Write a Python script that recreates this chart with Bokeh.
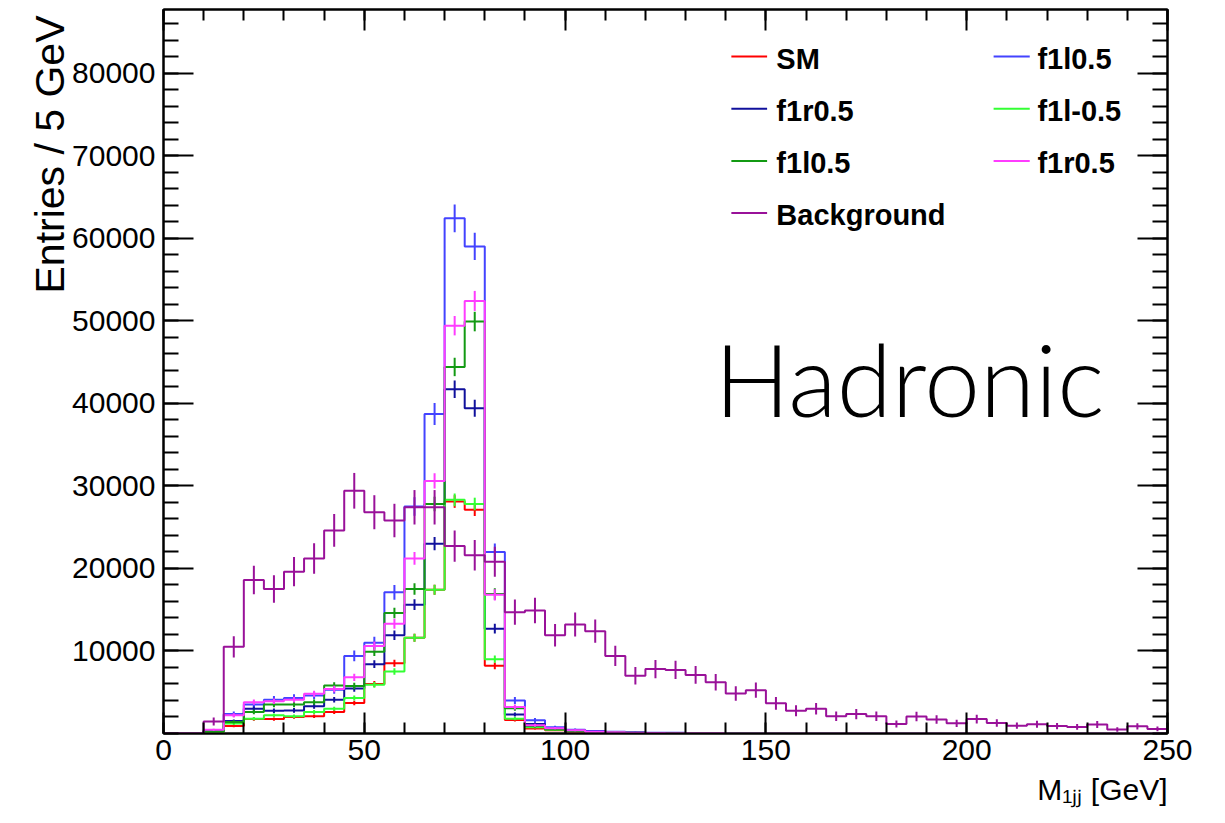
import numpy as np
from bokeh.plotting import figure
from bokeh.models import (Range1d, LinearAxis, FixedTicker, NumeralTickFormatter, Label, Arrow,
                          Title, CustomLabelingPolicy)
from bokeh.embed import file_html
from bokeh.resources import INLINE

# ---------------- data (5 GeV bins from 0 to 250 GeV) ----------------
bin_edges = list(range(0, 255, 5))

background = [0, 0, 1450, 10500, 18600, 17500, 19600, 21200, 24600, 29400,
              26800, 25800, 27400, 27400, 22700, 21600, 20800, 14700, 14900, 11900,
              13200, 12400, 9400, 7000, 7800, 7700, 7100, 6200, 4850, 5250,
              3650, 2750, 3000, 2100, 2350, 2100, 1150, 2050, 1700, 1230,
              1750, 1270, 950, 1130, 900, 800, 1090, 480, 870, 560]

sm = [0, 0, 200, 900, 1750, 1750, 2000, 2100, 2600, 3700,
      6000, 8500, 11600, 17400, 28100, 27100, 8200, 1650, 600, 400,
      250, 150, 100, 70, 50, 35, 25, 15, 10, 8,
      5, 4, 3, 2, 2, 1, 1, 1, 0, 0,
      0, 0, 0, 0, 0, 0, 0, 0, 0, 0]

f1l05_a = [0, 0, 350, 2350, 3500, 4100, 4300, 4600, 5300, 9400,
           11000, 17100, 27500, 38700, 62400, 59000, 22000, 4000, 1600, 750,
           450, 300, 200, 150, 100, 80, 60, 40, 30, 20,
           15, 10, 8, 6, 4, 3, 2, 2, 1, 1,
           0, 0, 0, 0, 0, 0, 0, 0, 0, 0]

f1r05_a = [0, 0, 300, 1500, 3000, 2750, 2800, 3300, 4100, 5450,
           8400, 11900, 15600, 23000, 41700, 39400, 12700, 2300, 1150, 550,
           330, 200, 130, 90, 60, 45, 30, 20, 15, 10,
           8, 5, 4, 3, 2, 2, 1, 1, 0, 0,
           0, 0, 0, 0, 0, 0, 0, 0, 0, 0]

f1lm05 = [0, 0, 200, 1200, 1800, 2200, 2100, 2600, 3000, 4300,
          5900, 7500, 11600, 17400, 28300, 27800, 9000, 1800, 750, 450,
          280, 170, 110, 75, 50, 35, 25, 15, 10, 8,
          5, 4, 3, 2, 2, 1, 1, 1, 0, 0,
          0, 0, 0, 0, 0, 0, 0, 0, 0, 0]

f1l05_b = [0, 0, 250, 1400, 2600, 3500, 3500, 3800, 5800, 5750,
           9900, 14600, 17500, 27800, 44400, 49900, 16900, 3050, 900, 500,
           300, 180, 120, 80, 55, 40, 28, 18, 12, 9,
           6, 4, 3, 2, 2, 1, 1, 1, 0, 0,
           0, 0, 0, 0, 0, 0, 0, 0, 0, 0]

f1r05_b = [0, 0, 450, 2200, 3800, 3900, 4100, 4800, 5400, 6800,
           10600, 13300, 21200, 30600, 49400, 52400, 16800, 3200, 1000, 650,
           380, 220, 140, 95, 65, 45, 30, 20, 14, 10,
           7, 5, 3, 2, 2, 1, 1, 1, 0, 0,
           0, 0, 0, 0, 0, 0, 0, 0, 0, 0]

# per-sample event weights (error = sqrt(weight * content))
weights = {"SM": 21, "f1l0.5a": 46, "f1r0.5a": 27, "f1l-0.5": 21,
           "f1l0.5b": 28, "f1r0.5b": 28, "Background": 159}

x_ticks = [0, 50, 100, 150, 200, 250]
y_ticks = [10000, 20000, 30000, 40000, 50000, 60000, 70000, 80000]

series = [
    ("SM", "SM", sm, "#ff0000"),
    ("f1l0.5a", "f1l0.5", f1l05_a, "#4343ff"),
    ("f1r0.5a", "f1r0.5", f1r05_a, "#10109c"),
    ("f1l-0.5", "f1l-0.5", f1lm05, "#33ff33"),
    ("f1l0.5b", "f1l0.5", f1l05_b, "#139a13"),
    ("f1r0.5b", "f1r0.5", f1r05_b, "#ff3cff"),
    ("Background", "Background", background, "#991199"),
]

FONT = "Liberation Sans"

p = figure(width=1225, height=823, output_backend="svg", toolbar_location=None,
           x_range=Range1d(0, 250), y_range=Range1d(0, 87700),
           min_border_left=163, min_border_right=58, min_border_top=9, min_border_bottom=90,
           x_axis_location=None, y_axis_location=None)
p.xgrid.grid_line_color = None
p.ygrid.grid_line_color = None
p.outline_line_color = "black"
p.outline_line_width = 2
p.background_fill_color = "white"
p.border_fill_color = "white"

hide_labels = CustomLabelingPolicy(code="""
const n = indices.size
for (let i = 0; i < n; i++) { indices.unset(i) }
return indices
""")

def style_axis(ax, major_len, minor_len, show_labels):
    ax.major_tick_in = major_len
    ax.major_tick_out = 0
    ax.minor_tick_in = minor_len
    ax.minor_tick_out = 0
    ax.axis_line_width = 2
    ax.major_tick_line_width = 2
    ax.minor_tick_line_width = 2
    ax.axis_line_color = "black"
    ax.major_tick_line_color = "black"
    ax.minor_tick_line_color = "black"
    if show_labels:
        ax.major_label_text_font = FONT
        ax.major_label_text_font_size = "30px"
        ax.major_label_text_color = "black"
    else:
        ax.major_label_policy = hide_labels
        ax.major_label_text_font_size = "2px"
        ax.major_label_standoff = 0

xt = FixedTicker(ticks=x_ticks, minor_ticks=list(range(0, 251, 10)))
yt = FixedTicker(ticks=y_ticks, minor_ticks=list(range(0, 87701, 2000)))

xb = LinearAxis(ticker=xt)
style_axis(xb, 21, 11, True)
xb.major_label_standoff = 6
p.add_layout(xb, "below")

xa = LinearAxis(ticker=xt)
style_axis(xa, 21, 11, False)
p.add_layout(xa, "above")

yl = LinearAxis(ticker=yt, formatter=NumeralTickFormatter(format="0"))
style_axis(yl, 30, 15, True)
yl.major_label_standoff = 8
p.add_layout(yl, "left")

yr = LinearAxis(ticker=yt)
style_axis(yr, 30, 15, False)
p.add_layout(yr, "right")

edges = np.array(bin_edges, dtype=float)
centers = 0.5 * (edges[:-1] + edges[1:])
for key, name, vals, col in series:
    v = np.array(vals, dtype=float)
    ys = np.append(v, v[-1])
    p.step(edges, ys, mode="after", line_color=col, line_width=2)
    err = np.sqrt(weights[key] * v)
    m = v > 0
    p.segment(x0=centers[m], y0=(v - err)[m], x1=centers[m], y1=(v + err)[m],
              line_color=col, line_width=2)

# ---------------- legend (two columns, row-wise) ----------------
leg_cols_x = [(141.4, 150.3, 152.6), (206.7, 215.7, 217.6)]
leg_rows_y = [82000, 75680, 69340, 63050]
for i, (key, name, vals, col) in enumerate(series):
    r, c = divmod(i, 2)
    x0, x1, xt_ = leg_cols_x[c]
    yy = leg_rows_y[r]
    p.add_layout(Arrow(end=None, x_start=x0, y_start=yy, x_end=x1, y_end=yy,
                       line_color=col, line_width=2))
    p.add_layout(Label(x=xt_, y=yy - 250, text=name, text_font=FONT,
                       text_font_size="29px", text_font_style="bold",
                       text_color="black", text_baseline="middle", text_align="left"))

# ---------------- texts ----------------
p.add_layout(Label(x=137.2, y=43100, text="Hadronic",
                   text_font="'Lato Light', 'Liberation Sans', sans-serif",
                   text_font_size="100px", text_color="black",
                   text_baseline="alphabetic", text_align="left"))

ytitle = Title(text="Entries / 5 GeV", align="right", vertical_align="middle",
               offset=6, standoff=-8, text_font=FONT, text_font_size="41px",
               text_font_style="normal", text_color="black")
p.add_layout(ytitle, "left")

xtitle = Title(text="M\u2081\u2c7c\u2c7c [GeV]", align="right", vertical_align="bottom",
               offset=0, standoff=16, text_font=FONT, text_font_size="30px",
               text_font_style="normal", text_color="black")
p.add_layout(xtitle, "below")

open("out.html", "w").write(file_html(p, INLINE))
